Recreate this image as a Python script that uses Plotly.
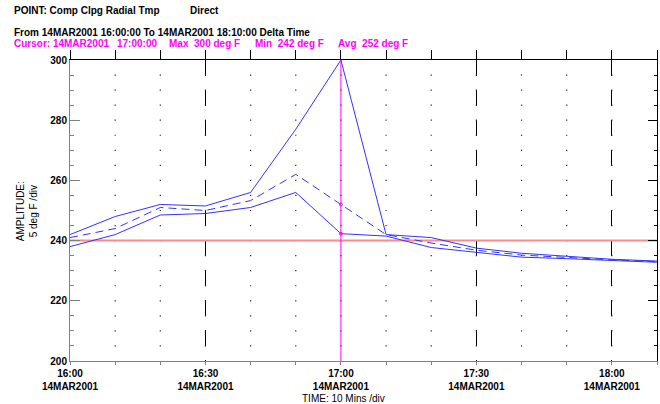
import plotly.graph_objects as go
import numpy as np

# ---------------- data ----------------
times = ["16:00", "16:10", "16:20", "16:30", "16:40", "16:50", "17:00",
         "17:10", "17:20", "17:30", "17:40", "17:50", "18:00", "18:10"]
max_vals = [242, 248, 252, 251.5, 256, 277, 300, 242, 241, 237.5, 235.8, 234.7, 233.8, 233.2]
avg_vals = [241, 244, 251, 250, 253.3, 262, 252, 242, 239.2, 236.8, 235.2, 234.3, 233.6, 233.0]
min_vals = [238, 242, 248.5, 249, 251, 256, 242.3, 241.5, 237.7, 236.0, 234.5, 234.0, 233.3, 232.8]
label_times = ["16:00", "16:30", "17:00", "17:30", "18:00"]
date_label = "14MAR2001"
cursor_time = "17:00"
limit_value = 240
y_ticks = [200, 220, 240, 260, 280, 300]

def to_min(t):
    h, m = t.split(":")
    return (int(h) - 16) * 60 + int(m)

x = [to_min(t) for t in times]
x_end = to_min("18:10")
cursor_x = to_min(cursor_time)
ci = times.index(cursor_time)

# ---------------- layout helpers ----------------
W, H = 660, 404
L, R, T, B = 70, 3, 60, 43
PW, PH = W - L - R, H - T - B

def px(v):
    return (v - L) / PW

def py(v):
    return (H - B - v) / PH

FONT = "Liberation Sans, Arial, sans-serif"
BLUE = "#3333ff"
GRAY = "#808080"
MAG = "#ff00ff"
NB = "\u00a0"

fig = go.Figure()

# dotted grid (dots at every 10 min x every 5 deg)
gx, gy = [], []
for xv in range(10, x_end, 10):
    for yv in range(205, 300, 5):
        gx.append(xv)
        gy.append(yv)
fig.add_trace(go.Scatter(x=gx, y=gy, mode="markers",
                         marker=dict(symbol="square", size=1.2, color="#222222",
                                     line=dict(width=0)),
                         hoverinfo="skip", showlegend=False))

# limit line
fig.add_trace(go.Scatter(x=[0, x_end], y=[limit_value, limit_value], mode="lines",
                         line=dict(color="#ff8a8a", width=2),
                         hoverinfo="skip", showlegend=False))

# series
fig.add_trace(go.Scatter(x=x, y=max_vals, mode="lines",
                         line=dict(color=BLUE, width=1), showlegend=False))
fig.add_trace(go.Scatter(x=x, y=avg_vals, mode="lines",
                         line=dict(color=BLUE, width=1, dash="8px,5px"), showlegend=False))
fig.add_trace(go.Scatter(x=x, y=min_vals, mode="lines",
                         line=dict(color=BLUE, width=1), showlegend=False))

# cursor
fig.add_trace(go.Scatter(x=[cursor_x, cursor_x], y=[200, 300], mode="lines",
                         line=dict(color=MAG, width=1),
                         hoverinfo="skip", showlegend=False))
fig.add_trace(go.Scatter(x=[cursor_x] * 2, y=[avg_vals[ci], min_vals[ci]], mode="markers",
                         marker=dict(symbol="circle-open", size=3, color=MAG,
                                     line=dict(width=1)),
                         hoverinfo="skip", showlegend=False))

# dummy traces for secondary (frame / grid) axes
fig.add_trace(go.Scatter(x=[None], y=[None], xaxis="x2", yaxis="y2",
                         showlegend=False, hoverinfo="skip"))
fig.add_trace(go.Scatter(x=[None], y=[None], xaxis="x3", yaxis="y",
                         showlegend=False, hoverinfo="skip"))

tick_vals = [to_min(t) for t in label_times]
tick_text = [f"<b>{t}<br>{date_label}</b>" for t in label_times]
grid_vals = [v for v in tick_vals if v not in (0, cursor_x)]

fig.update_layout(
    width=W, height=H,
    margin=dict(l=L, r=R, t=T, b=B, pad=0),
    paper_bgcolor="white", plot_bgcolor="white",
    font=dict(family=FONT, size=10, color="black"),
    xaxis=dict(range=[0, x_end], tickvals=tick_vals, ticktext=tick_text,
               ticks="outside", ticklen=3, tickcolor=GRAY, tickwidth=1,
               showline=True, linecolor=GRAY, linewidth=1,
               showgrid=False, zeroline=False,
               minor=dict(dtick=10, tick0=0, ticks="outside", ticklen=3,
                          tickcolor=GRAY, showgrid=False),
               tickfont=dict(family=FONT, size=10, color="black")),
    xaxis3=dict(overlaying="x", side="bottom", anchor="y", range=[0, x_end],
                tickvals=grid_vals, ticks="", showticklabels=False, showline=False,
                showgrid=True, gridcolor="black", gridwidth=1, griddash="16px,14px",
                zeroline=False, layer="below traces"),
    yaxis=dict(range=[200, 300], tickvals=y_ticks,
               ticktext=[f"<b>{v}</b>" for v in y_ticks],
               ticks="inside", ticklen=10, tickcolor=GRAY, tickwidth=1,
               showline=True, linecolor=GRAY, linewidth=1,
               showgrid=False, zeroline=False,
               minor=dict(dtick=5, tick0=200, ticks="inside", ticklen=4,
                          tickcolor=GRAY, showgrid=False),
               tickfont=dict(family=FONT, size=10, color="black")),
    xaxis2=dict(overlaying="x", side="top", anchor="y", range=[0, x_end],
                tickvals=list(range(0, x_end + 1, 10)),
                ticks="outside", ticklen=9, tickcolor="black",
                showline=True, linecolor="black", linewidth=1,
                showticklabels=False, showgrid=False, zeroline=False),
    yaxis2=dict(overlaying="y", side="right", anchor="x", range=[200, 300],
                tickvals=y_ticks, ticks="inside", ticklen=9, tickcolor="black",
                minor=dict(dtick=5, tick0=200, ticks="inside", ticklen=3,
                           tickcolor="black", showgrid=False),
                showline=True, linecolor="black", linewidth=1,
                showticklabels=False, showgrid=False, zeroline=False),
)

def add_text(text, xp, yp, color="black", anchor="left", bold=True):
    fig.add_annotation(text=(f"<b>{text}</b>" if bold else text),
                       x=px(xp), y=py(yp), xref="paper", yref="paper",
                       xanchor=anchor, yanchor="middle", showarrow=False,
                       font=dict(family=FONT, size=10, color=color))

add_text("POINT: Comp Clpg Radial Tmp", 12, 10)
add_text("Direct", 188, 10)
add_text("From 14MAR2001 16:00:00 To 14MAR2001 18:10:00 Delta Time", 12, 32.5)

cur_min = min(max_vals[ci], avg_vals[ci], min_vals[ci])
add_text("Cursor: " + date_label, 12, 43.7, MAG)
add_text(cursor_time + ":00", 115, 43.7, MAG)
add_text(f"Max{NB*2}{max_vals[ci]:.0f} deg F", 167, 43.7, MAG)
add_text(f"Min{NB*2}{cur_min:.0f} deg F", 253, 43.7, MAG)
add_text(f"Avg{NB*2}{avg_vals[ci]:.0f} deg F", 336, 43.7, MAG)

fig.add_annotation(text="AMPLITUDE:<br>5 deg F /div", x=px(26.5), y=py(211.7),
                   xref="paper", yref="paper", xanchor="center", yanchor="middle",
                   textangle=-90, showarrow=False,
                   font=dict(family=FONT, size=10, color="black"))
add_text("TIME: 10 Mins /div", 343, 398.5, anchor="center", bold=False)

fig.write_html("out.html")
